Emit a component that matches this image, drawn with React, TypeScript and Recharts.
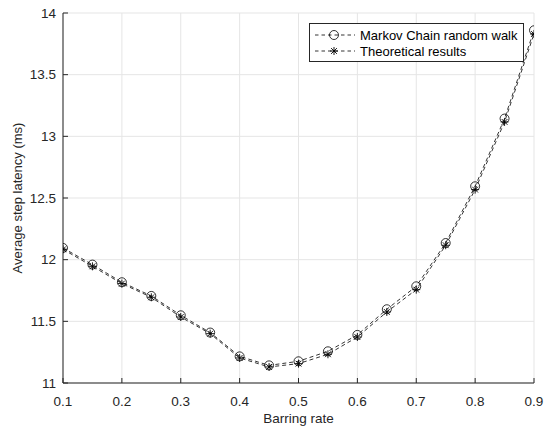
import React from 'react';
import { LineChart, Line, XAxis, YAxis, CartesianGrid, Legend, Label } from 'recharts';

const barringRate = [0.1, 0.15, 0.2, 0.25, 0.3, 0.35, 0.4, 0.45, 0.5, 0.55, 0.6, 0.65, 0.7, 0.75, 0.8, 0.85, 0.9];
const markovWalk = [12.095, 11.96, 11.817, 11.706, 11.549, 11.409, 11.216, 11.143, 11.176, 11.257, 11.39, 11.598, 11.784, 12.135, 12.595, 13.144, 13.86];
const theoretical = [12.084, 11.946, 11.806, 11.695, 11.535, 11.4, 11.203, 11.13, 11.157, 11.233, 11.373, 11.576, 11.757, 12.117, 12.568, 13.117, 13.83];
const xTicks = [0.1, 0.2, 0.3, 0.4, 0.5, 0.6, 0.7, 0.8, 0.9];
const yTicks = [11, 11.5, 12, 12.5, 13, 13.5, 14];
const seriesNames = ['Markov Chain random walk', 'Theoretical results'];

const data = barringRate.map((x, i) => ({ x, markov: markovWalk[i], theory: theoretical[i] }));

const AXIS = '#262626';
const FONT = '"Liberation Sans", Arial, sans-serif';
const FS = 13.5;

const CircleDot = (props: any) => {
  const { cx, cy } = props;
  if (cx == null || cy == null) return null;
  return <circle cx={cx} cy={cy} r={4.5} fill="none" stroke="#000" strokeWidth={0.8} />;
};

const StarDot = (props: any) => {
  const { cx, cy } = props;
  if (cx == null || cy == null) return null;
  const s = 4;
  const d = 2.9;
  return (
    <g stroke="#000" strokeWidth={0.9}>
      <line x1={cx - s} y1={cy} x2={cx + s} y2={cy} />
      <line x1={cx} y1={cy - s} x2={cx} y2={cy + s} />
      <line x1={cx - d} y1={cy - d} x2={cx + d} y2={cy + d} />
      <line x1={cx - d} y1={cy + d} x2={cx + d} y2={cy - d} />
    </g>
  );
};

const LegendBox = () => (
  <div
    style={{
      width: 215,
      height: 39,
      boxSizing: 'border-box',
      border: `1px solid ${AXIS}`,
      background: '#fff',
      fontFamily: FONT,
      fontSize: 13,
      color: '#000',
      paddingTop: 3,
    }}
  >
    {seriesNames.map((name, i) => (
      <div key={name} style={{ display: 'flex', alignItems: 'center', height: 16 }}>
        <svg width={50} height={14} style={{ display: 'block' }}>
          <line x1={5} y1={7} x2={45} y2={7} stroke="#000" strokeWidth={0.8} strokeDasharray="3.5 3" />
          {i === 0 ? <CircleDot cx={24} cy={7} /> : <StarDot cx={24} cy={7} />}
        </svg>
        <span style={{ whiteSpace: 'nowrap' }}>{name}</span>
      </div>
    ))}
  </div>
);

const YLabel = (props: any) => {
  const { viewBox } = props;
  const cx = 17;
  const cy = viewBox.y + viewBox.height / 2;
  return (
    <text
      x={cx}
      y={cy}
      transform={`rotate(-90 ${cx} ${cy})`}
      textAnchor="middle"
      dominantBaseline="central"
      fontFamily={FONT}
      fontSize={13}
      fill={AXIS}
    >
      Average step latency (ms)
    </text>
  );
};

const tickStyle = { fontFamily: FONT, fontSize: FS, fill: AXIS };
const noTick = () => <g />;

export default function App() {
  return (
    <div style={{ position: 'absolute', left: 0, top: 0, width: 549, height: 432, background: '#fff' }}>
      <LineChart width={549} height={432} data={data} margin={{ top: 13, right: 15, bottom: 0, left: 0 }}>
        <CartesianGrid stroke="#e5e5e5" strokeWidth={1} vertical horizontal />
        <XAxis
          dataKey="x"
          type="number"
          domain={[0.1, 0.9]}
          ticks={xTicks}
          tickFormatter={(v: number) => String(v)}
          height={49}
          tickSize={-5}
          tickMargin={18}
          stroke={AXIS}
          tick={tickStyle}
          allowDataOverflow
        >
          <Label value="Barring rate" position="insideBottom" offset={9} style={{ fontFamily: FONT, fontSize: FS, fill: AXIS }} />
        </XAxis>
        <XAxis
          xAxisId="top"
          orientation="top"
          dataKey="x"
          type="number"
          domain={[0.1, 0.9]}
          ticks={xTicks}
          height={0}
          tickSize={-5}
          stroke={AXIS}
          tick={noTick}
          allowDataOverflow
        />
        <YAxis
          type="number"
          domain={[11, 14]}
          ticks={yTicks}
          tickFormatter={(v: number) => String(v)}
          width={63}
          tickSize={-5}
          tickMargin={12}
          stroke={AXIS}
          tick={tickStyle}
          allowDataOverflow
          label={<YLabel />}
        />
        <YAxis
          yAxisId="right"
          orientation="right"
          type="number"
          domain={[11, 14]}
          ticks={yTicks}
          width={0}
          tickSize={-5}
          stroke={AXIS}
          tick={noTick}
          allowDataOverflow
        />
        <Line
          dataKey="markov"
          name={seriesNames[0]}
          type="linear"
          stroke="#000"
          strokeWidth={0.8}
          strokeDasharray="4 3"
          dot={<CircleDot />}
          activeDot={false}
          isAnimationActive={false}
        />
        <Line
          dataKey="theory"
          name={seriesNames[1]}
          type="linear"
          stroke="#000"
          strokeWidth={0.8}
          strokeDasharray="4 3"
          dot={<StarDot />}
          activeDot={false}
          isAnimationActive={false}
        />
        <Legend
          layout="vertical"
          align="center"
          verticalAlign="middle"
          content={<LegendBox />}
          wrapperStyle={{ position: 'absolute', left: 309, top: 23, width: 215, height: 39 }}
        />
      </LineChart>
    </div>
  );
}
